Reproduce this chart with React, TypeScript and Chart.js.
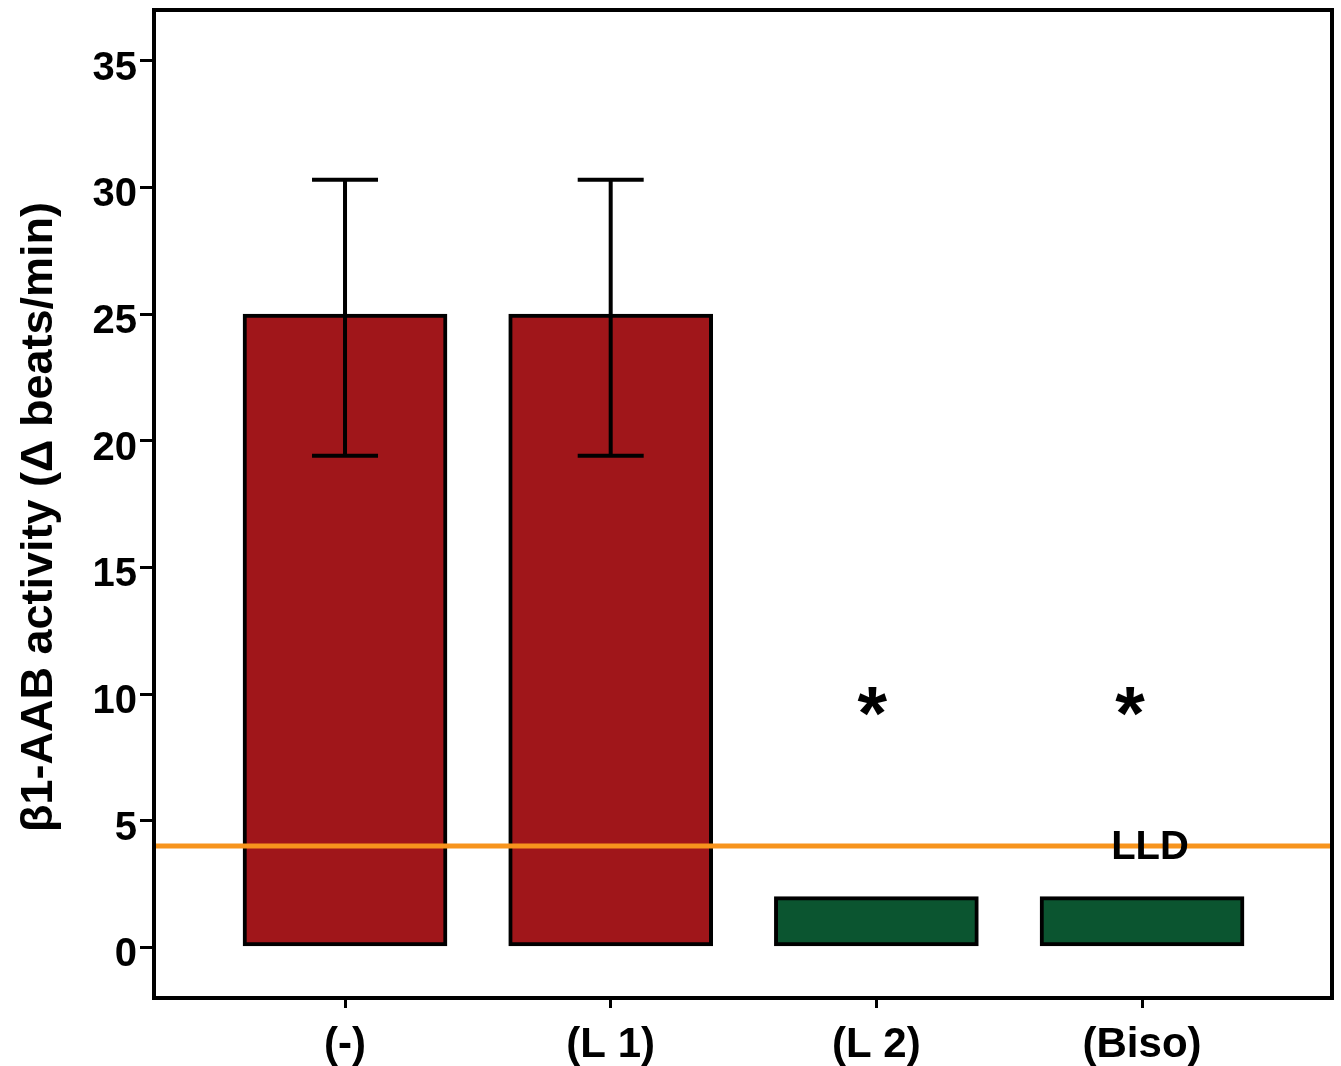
import React, { useEffect, useRef } from "react";
import { Chart, registerables } from "chart.js";

Chart.register(...registerables);

const categories = ["(-)", "(L 1)", "(L 2)", "(Biso)"];
const means = [25, 25, 2, 2];
const errLow: (number | null)[] = [19.4, 19.4, null, null];
const errHigh: (number | null)[] = [30.3, 30.3, null, null];
const barColors = ["#A0161A", "#A0161A", "#0B5530", "#0B5530"];
const significance = ["", "", "*", "*"];
const significanceY = 9.6;
const lldValue = 4;
const lldLabel = "LLD";
const yTicks = [0, 5, 10, 15, 20, 25, 30, 35];
const yTitle = "β1-AAB activity (Δ beats/min)";

const FONT = "'Liberation Sans', Arial, sans-serif";

const overlayPlugin = {
  id: "overlay",
  afterDatasetsDraw(chart: any) {
    const { ctx, chartArea, scales } = chart;
    const x = scales.x;
    const y = scales.y;
    ctx.save();
    // LLD line
    const ly = y.getPixelForValue(lldValue);
    ctx.strokeStyle = "#F7941D";
    ctx.lineWidth = 5;
    ctx.beginPath();
    ctx.moveTo(chartArea.left, ly);
    ctx.lineTo(chartArea.right, ly);
    ctx.stroke();
    // error bars
    ctx.strokeStyle = "#000";
    ctx.lineWidth = 4;
    categories.forEach((_, i) => {
      const lo = errLow[i];
      const hi = errHigh[i];
      if (lo == null || hi == null) return;
      const cx = x.getPixelForValue(i);
      const yl = y.getPixelForValue(lo);
      const yh = y.getPixelForValue(hi);
      ctx.beginPath();
      ctx.moveTo(cx, yl);
      ctx.lineTo(cx, yh);
      ctx.moveTo(cx - 33, yl);
      ctx.lineTo(cx + 33, yl);
      ctx.moveTo(cx - 33, yh);
      ctx.lineTo(cx + 33, yh);
      ctx.stroke();
    });
    // significance marks
    ctx.fillStyle = "#000";
    ctx.textAlign = "center";
    ctx.textBaseline = "middle";
    ctx.font = `bold 76px ${FONT}`;
    significance.forEach((s, i) => {
      if (!s) return;
      const cx = x.getPixelForValue(i) - (i === 3 ? 12 : 4);
      ctx.fillText(s, cx, y.getPixelForValue(significanceY) + 14);
    });
    // LLD label
    ctx.font = `bold 40px ${FONT}`;
    ctx.fillText(lldLabel, x.getPixelForValue(categories.length - 1) + 8, ly + 2);
    // frame
    ctx.lineWidth = 4;
    ctx.strokeRect(chartArea.left, chartArea.top, chartArea.right - chartArea.left, chartArea.bottom - chartArea.top);
    // y-axis title
    ctx.save();
    ctx.translate(40, (chartArea.top + chartArea.bottom) / 2 + 13);
    ctx.rotate(-Math.PI / 2);
    ctx.font = `bold 45px ${FONT}`;
    ctx.textAlign = "center";
    ctx.textBaseline = "middle";
    ctx.fillText(yTitle, 0, 0);
    ctx.restore();
    ctx.restore();
  },
};

export default function App() {
  const ref = useRef<HTMLCanvasElement | null>(null);
  useEffect(() => {
    if (!ref.current) return;
    const chart = new Chart(ref.current, {
      type: "bar",
      data: {
        datasets: [
          {
            data: means.map((v, i) => ({ x: i, y: v })),
            backgroundColor: barColors,
            borderColor: "#000",
            borderWidth: 4,
            borderSkipped: false,
            barThickness: 204,
          },
        ],
      },
      options: {
        animation: false,
        responsive: true,
        maintainAspectRatio: false,
        layout: { padding: { top: 10, right: 9, left: 0, bottom: 0 } },
        plugins: { legend: { display: false }, tooltip: { enabled: false } },
        scales: {
          x: {
            type: "linear",
            offset: false,
            min: -0.719,
            max: 3.715,
            afterBuildTicks: (axis: any) => {
              axis.ticks = categories.map((_, i) => ({ value: i }));
            },
            afterFit: (axis: any) => {
              axis.height = 68;
              axis.paddingLeft = 0;
              axis.paddingRight = 0;
            },
            ticks: {
              callback: (v: any) => categories[v as number] ?? "",
              color: "#000",
              font: { family: FONT, size: 42, weight: "bold" },
              padding: 12,
              maxRotation: 0,
              autoSkip: false,
            },
            grid: { offset: false, drawOnChartArea: false, drawTicks: true, tickLength: 10, color: "#000", lineWidth: 3 },
            border: { display: false },
          },
          y: {
            type: "linear",
            min: -2,
            max: 37,
            afterBuildTicks: (axis: any) => {
              axis.ticks = yTicks.map((v) => ({ value: v }));
            },
            afterFit: (axis: any) => {
              axis.width = 154;
              axis.paddingTop = 0;
              axis.paddingBottom = 0;
            },
            ticks: {
              color: "#000",
              font: { family: FONT, size: 40, weight: "bold" },
              padding: 3,
              labelOffset: 8,
            },
            grid: { drawOnChartArea: false, drawTicks: true, tickLength: 14, color: "#000", lineWidth: 3 },
            border: { display: false },
          },
        },
      },
      plugins: [overlayPlugin],
    } as any);
    return () => chart.destroy();
  }, []);
  return (
    <div style={{ position: "absolute", left: 0, top: 0, width: 1341, height: 1066, background: "#fff" }}>
      <canvas ref={ref} />
    </div>
  );
}
